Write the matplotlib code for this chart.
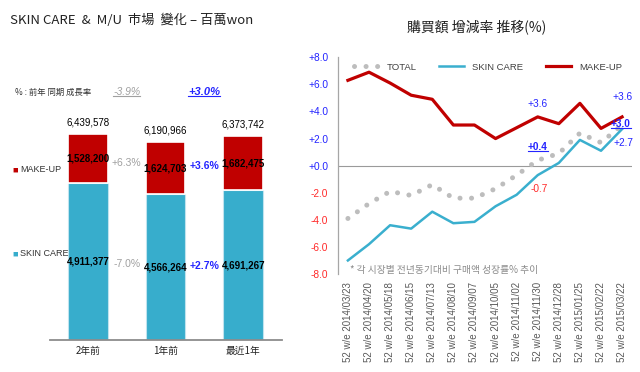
import matplotlib
matplotlib.use('Agg')
import matplotlib.pyplot as plt
from matplotlib.transforms import blended_transform_factory
from matplotlib.lines import Line2D

CJK = ['Noto Sans CJK KR', 'DejaVu Sans']
plt.rcParams['font.family'] = CJK

# ---------------- left chart data ----------------
periods = ['2年前', '1年前', '最近1年']
skin_care = [4911377, 4566264, 4691267]
make_up = [1528200, 1624703, 1682475]
totals = [6439578, 6190966, 6373742]
skin_growth = ['-7.0%', '+2.7%']
makeup_growth = ['+6.3%', '+3.6%']
total_growth = ['-3.9%', '+3.0%']

# ---------------- right chart data ----------------
weeks = ['52 w/e 2014/03/23', '52 w/e 2014/04/20', '52 w/e 2014/05/18',
         '52 w/e 2014/06/15', '52 w/e 2014/07/13', '52 w/e 2014/08/10',
         '52 w/e 2014/09/07', '52 w/e 2014/10/05', '52 w/e 2014/11/02',
         '52 w/e 2014/11/30', '52 w/e 2014/12/28', '52 w/e 2015/01/25',
         '52 w/e 2015/02/22', '52 w/e 2015/03/22']
total_rate = [-3.9, -2.8, -1.9, -2.2, -1.4, -2.4, -2.4, -1.7, -0.7, 0.4, 0.9, 2.4, 1.7, 3.0]
skin_rate = [-7.0, -5.8, -4.4, -4.65, -3.4, -4.25, -4.15, -3.0, -2.15, -0.7, 0.2, 1.9, 1.1, 2.7]
makeup_rate = [6.3, 6.9, 6.1, 5.2, 4.9, 3.0, 3.0, 2.0, 2.8, 3.6, 3.1, 4.6, 2.75, 3.6]
rate_ticks = [8, 6, 4, 2, 0, -2, -4, -6, -8]

BAR_BLUE = '#37ADCC'
BAR_RED = '#C00000'
LINE_BLUE = '#3AAFCE'
TXT_BLUE = '#2424FF'
TXT_RED = '#FF2A2A'
TXT_GRAY = '#A0A0A0'

fig = plt.figure(figsize=(6.4, 3.72), dpi=100)
W, H = 640.0, 372.0

# ================= LEFT CHART =================
ax1 = fig.add_axes([50 / W, 32 / H, 232 / W, 260 / H])
x = list(range(len(periods)))
bw = 0.51
ax1.bar(x, skin_care, width=bw, color=BAR_BLUE, edgecolor='#BFE3EE', linewidth=0.8)
ax1.bar(x, make_up, bottom=skin_care, width=bw, color=BAR_RED, edgecolor='white', linewidth=1.2)
ax1.set_xlim(-0.487, 2.5)
ax1.set_ylim(0, 260 / 31.94 * 1e6)
for s in ['top', 'right', 'left']:
    ax1.spines[s].set_visible(False)
ax1.spines['bottom'].set_color('#8C8C8C')
ax1.spines['bottom'].set_linewidth(1.3)
ax1.set_yticks([])
ax1.set_xticks(x)
ax1.set_xticklabels(periods, fontsize=7, color='#222222')
ax1.tick_params(axis='x', length=0, pad=4)

num_font = ['Liberation Sans', 'DejaVu Sans']
for i in x:
    ax1.text(i, skin_care[i] / 2, f'{skin_care[i]:,}', ha='center', va='center',
             fontsize=7, family=num_font, color='black', fontweight='bold')
    ax1.text(i, skin_care[i] + make_up[i] / 2, f'{make_up[i]:,}', ha='center', va='center',
             fontsize=7, family=num_font, color='black', fontweight='bold')
    ax1.annotate(f'{totals[i]:,}', (i, totals[i]), xytext=(0, 5), textcoords='offset points',
                 ha='center', va='bottom', fontsize=7, family=num_font, color='black')

growth_style = [dict(color=TXT_GRAY, fontweight='normal'), dict(color=TXT_BLUE, fontweight='bold')]
for k in range(2):
    xm = k + 0.5
    y_mu = ((skin_care[k] + make_up[k] / 2) + (skin_care[k + 1] + make_up[k + 1] / 2)) / 2
    y_sc = (skin_care[k] / 2 + skin_care[k + 1] / 2) / 2
    ax1.text(xm, y_mu, makeup_growth[k], ha='center', va='center', fontsize=7.5,
             family=num_font, **growth_style[k])
    ax1.text(xm, y_sc, skin_growth[k], ha='center', va='center', fontsize=7.5,
             family=num_font, **growth_style[k])

trans = blended_transform_factory(ax1.transData, fig.transFigure)
hdr_y = 1 - 92 / H
tg0 = ax1.text(0.5, hdr_y, total_growth[0], transform=trans, ha='center', va='center',
               fontsize=7.5, family=num_font, color=TXT_GRAY, style='italic')
tg1 = ax1.text(1.5, hdr_y, total_growth[1], transform=trans, ha='center', va='center',
               fontsize=8, family=num_font, color=TXT_BLUE, style='italic', fontweight='bold')
fig.text(15 / W, hdr_y, '% : 前年 同期 成長率', fontsize=6, color='#333333', va='center')

# pseudo legend on left
fig.text(12 / W, 1 - 170 / H, '■', fontsize=4, color=BAR_RED, va='center')
fig.text(20 / W, 1 - 170 / H, 'MAKE-UP', fontsize=6.5, color='#333333', va='center',
         family=num_font)
fig.text(12 / W, 1 - 254 / H, '■', fontsize=4, color=BAR_BLUE, va='center')
fig.text(20 / W, 1 - 254 / H, 'SKIN CARE', fontsize=6.5, color='#333333', va='center',
         family=num_font)

fig.text(10 / W, 1 - 20 / H, 'SKIN CARE  &  M/U  市場  變化 – 百萬won', fontsize=9.5,
         color='#222222', va='center')

# ================= RIGHT CHART =================
ax2 = fig.add_axes([338 / W, 98 / H, 294 / W, 216.7 / H])
xr = list(range(len(weeks)))
ax2.plot(xr, total_rate, color='#BDBDBD', lw=3.6, linestyle=(0, (0.01, 2.3)),
         dash_capstyle='round', label='TOTAL')
ax2.plot(xr, skin_rate, color=LINE_BLUE, lw=1.8, label='SKIN CARE')
ax2.plot(xr, makeup_rate, color=BAR_RED, lw=2.3, label='MAKE-UP')
ax2.axhline(0, color='#9A9A9A', lw=0.8, zorder=0)
ax2.set_xlim(-0.47, 13.47)
ax2.set_ylim(-8, 8)
for s in ['top', 'right', 'bottom']:
    ax2.spines[s].set_visible(False)
ax2.spines['left'].set_color('#A6A6A6')
ax2.spines['left'].set_linewidth(0.9)
ax2.set_yticks(rate_ticks)
ax2.set_yticklabels([f'{v:+.1f}' for v in rate_ticks], fontsize=7.3,
                    family=num_font)
for lab, v in zip(ax2.get_yticklabels(), rate_ticks):
    lab.set_color(TXT_BLUE if v >= 0 else TXT_RED)
ax2.tick_params(axis='y', length=0, pad=7)
ax2.set_xticks(xr)
ax2.set_xticklabels(weeks, rotation=90, fontsize=7, color='#595959', family=num_font)
ax2.tick_params(axis='x', length=0, pad=6)

leg = ax2.legend(loc='upper center', bbox_to_anchor=(0.51, 1.015), ncol=3, frameon=False,
                 handlelength=2.6, columnspacing=2.4, handletextpad=0.9,
                 prop={'family': num_font, 'size': 6.8})
for t in leg.get_texts():
    t.set_color('#404040')

ann = dict(textcoords='offset points', ha='center', va='center', family=num_font, fontsize=7.3)
ax2.annotate(f'{makeup_rate[9]:+.1f}', (9, makeup_rate[9]), xytext=(0, 9.5), color=TXT_BLUE, **ann)
ax2.annotate(f'{makeup_rate[13]:+.1f}', (13, makeup_rate[13]), xytext=(0, 14), color=TXT_BLUE, **ann)
ax2.annotate(f'{skin_rate[13]:+.1f}', (13, skin_rate[13]), xytext=(1, -10), color=TXT_BLUE, **ann)
ax2.annotate(f'{skin_rate[9]:+.1f}', (9, skin_rate[9]), xytext=(1, -10), color=TXT_RED, **ann)
u1 = ax2.annotate(f'{total_rate[9]:+.1f}', (9, total_rate[9]), xytext=(0, 9.5), color=TXT_BLUE,
                  fontweight='bold', **ann)
u2 = ax2.annotate(f'{total_rate[13]:+.1f}', (13, total_rate[13]), xytext=(-1, 0.5), color=TXT_BLUE,
                  fontweight='bold', **ann)

fig.text(350 / W, 1 - 270 / H, '* 각 시장별 전년동기대비 구매액 성장률% 추이', fontsize=7,
         color='#8C8C8C', va='center')
fig.text(477 / W, 1 - 27 / H, '購買額 增減率 推移(%)', fontsize=10, color='#222222',
         ha='center', va='center')

# underlines
fig.canvas.draw()
for t, col in [(tg0, TXT_GRAY), (tg1, TXT_BLUE), (u1, TXT_BLUE), (u2, TXT_BLUE)]:
    bb = t.get_window_extent()
    yy = (bb.y0 + 1.5) / H
    fig.add_artist(Line2D([bb.x0 / W, bb.x1 / W], [yy, yy], color=col, lw=0.8,
                          transform=fig.transFigure))

fig.savefig('out.png', dpi=100)
